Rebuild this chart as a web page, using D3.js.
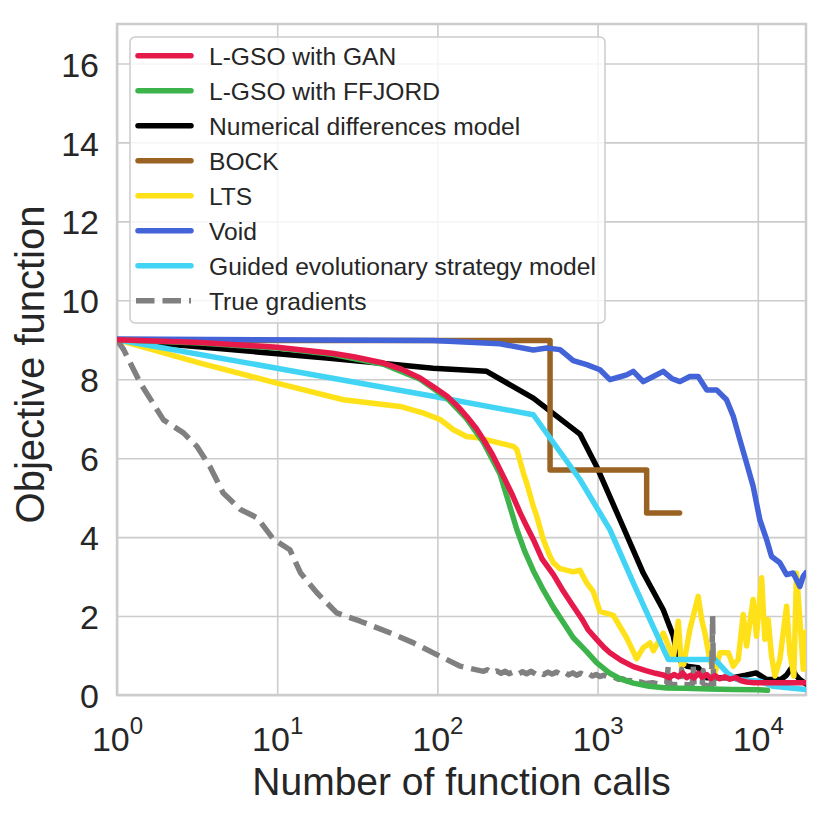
<!DOCTYPE html>
<html>
<head>
<meta charset="utf-8">
<script src="https://cdn.jsdelivr.net/npm/d3@7/dist/d3.min.js"></script>
<style>
  body { margin: 0; background: #fff; }
  text { font-family: "Liberation Sans", Arial, sans-serif; fill: #262626; }
</style>
</head>
<body>
<div class="content"></div>
<script>
// Series: [number of function calls, objective function]
var ganData = [
  [1, 9.0], [3.3, 8.93], [10, 8.81], [22, 8.66], [30, 8.57], [46, 8.41], [60, 8.25],
  [78, 8.03], [95, 7.8], [115, 7.57], [135, 7.3], [152, 7.06], [175, 6.75], [194, 6.47],
  [220, 6.1], [246, 5.71], [290, 5.12], [328, 4.62], [360, 4.28], [397, 3.94], [450, 3.45],
  [530, 3.05], [600, 2.68], [700, 2.27], [800, 1.92], [870, 1.66], [986, 1.41], [1100, 1.2],
  [1194, 1.07], [1400, 0.88], [1671, 0.72], [2000, 0.62], [2300, 0.55], [2600, 0.5],
  [2800, 0.44], [3000, 0.52], [3200, 0.46], [3400, 0.56], [3600, 0.44], [3800, 0.5],
  [4000, 0.43], [4250, 0.55], [4500, 0.45], [4800, 0.52], [5100, 0.42], [5400, 0.49],
  [5800, 0.41], [6200, 0.46], [6700, 0.4], [7300, 0.44], [7900, 0.36], [8500, 0.33],
  [9500, 0.31], [12000, 0.31], [16000, 0.31], [20000, 0.31]
];

var ffjordData = [
  [1, 9.0], [3.3, 8.92], [10, 8.79], [22, 8.63], [46, 8.38], [78, 8.0], [115, 7.52],
  [152, 7.0], [194, 6.4], [246, 5.6], [280, 4.85], [313, 4.2], [350, 3.65], [397, 3.15],
  [460, 2.65], [530, 2.22], [620, 1.8], [705, 1.45], [855, 1.1], [986, 0.82], [1194, 0.55],
  [1400, 0.4], [1671, 0.3], [2100, 0.22], [2700, 0.18], [3500, 0.17], [5000, 0.15],
  [7000, 0.14], [10000, 0.13], [11500, 0.12]
];

var numDiffData = [
  [1, 9.0], [20.4, 8.54], [94, 8.28], [203, 8.2], [397, 7.52], [776, 6.61], [986, 5.79],
  [1380, 4.44], [1928, 3.09], [2570, 2.16], [2965, 1.5], [3110, 1.1], [3300, 0.85],
  [3600, 0.73], [4250, 0.69], [4800, 0.44], [7000, 0.44], [8400, 0.5], [9770, 0.56],
  [10500, 0.48], [11350, 0.39], [14000, 0.4], [15100, 0.5], [16250, 0.69], [17300, 0.5],
  [18300, 0.39], [20000, 0.28]
];

var bockData = [
  [1, 8.98], [505, 5.7], [2025, 4.61], [3250, 4.61]
];

var ltsData = [
  [1, 9.0], [3.3, 8.41], [9.95, 7.9], [25.9, 7.48], [58.5, 7.31], [82, 7.14], [104, 6.98],
  [126, 6.72], [152, 6.55], [184, 6.51], [246, 6.38], [298, 6.3], [313, 6.22], [344, 5.63],
  [361, 5.37], [397, 4.78], [417, 4.53], [458, 3.94], [505, 3.51], [530, 3.35], [583, 3.2],
  [705, 3.12], [776, 3.16], [855, 2.84], [940, 2.62], [1035, 2.12], [1253, 2.02],
  [1517, 1.45], [1754, 0.92], [1928, 1.2], [2123, 1.32], [2228, 1.12], [2570, 1.57],
  [2831, 1.15], [2965, 0.9], [3190, 1.87], [3340, 0.73], [3450, 0.78], [3767, 1.66],
  [3954, 2.0], [4246, 2.5], [4467, 1.91], [4677, 1.57], [5020, 0.9], [5400, 0.56],
  [5808, 1.07], [6550, 1.07], [7031, 0.73], [7550, 0.9], [8110, 2.04], [8511, 1.24],
  [9354, 2.42], [9820, 1.49], [10570, 2.97], [11070, 1.41], [11610, 1.91], [12190, 0.98],
  [12800, 0.48], [13740, 0.9], [15136, 2.25], [15849, 1.07], [16790, 0.48], [17458, 3.09],
  [18323, 1.91], [19231, 0.65], [20000, 1.6]
];

var voidData = [
  [1, 9.02], [94, 8.98], [246, 8.9], [397, 8.74], [482, 8.79], [583, 8.75], [705, 8.47],
  [855, 8.37], [1035, 8.24], [1194, 7.99], [1350, 8.05], [1517, 8.11], [1671, 8.2],
  [1928, 7.94], [2228, 8.07], [2570, 8.2], [2900, 8.02], [3266, 7.94], [3767, 8.07],
  [4246, 8.07], [4797, 7.73], [5534, 7.73], [6383, 7.48], [7031, 7.06], [7727, 6.47],
  [8511, 5.88], [9354, 5.29], [10300, 4.44], [11350, 3.94], [12190, 3.51], [13740, 3.35],
  [15136, 3.05], [16630, 3.09], [18323, 2.75], [19231, 3.01], [20000, 3.1]
];

var guidedData = [
  [1, 9.0], [9.95, 8.28], [94, 7.57], [397, 7.1], [776, 5.46], [1194, 4.19], [1671, 2.84],
  [2123, 1.91], [2761, 0.9], [5400, 0.9], [6450, 0.56], [7380, 0.39], [10300, 0.35],
  [12500, 0.22], [20000, 0.14]
];

var trueGradData = [
  [1, 9.0], [1.1, 8.75], [1.4, 7.9], [1.95, 6.97], [2.6, 6.64], [3.15, 6.3], [3.8, 5.79],
  [4.6, 5.12], [5.9, 4.7], [7.5, 4.49], [9.5, 3.94], [12, 3.68], [14, 3.09], [17.7, 2.59],
  [23.5, 2.08], [33, 1.87], [51, 1.57], [71, 1.32], [104, 0.98], [139, 0.73], [194, 0.6],
  [205, 0.64], [220, 0.56], [235, 0.61], [250, 0.55], [265, 0.6], [280, 0.54], [300, 0.59],
  [320, 0.53], [340, 0.59], [360, 0.54], [385, 0.6], [410, 0.53], [435, 0.58], [460, 0.52],
  [490, 0.58], [520, 0.53], [555, 0.58], [590, 0.52], [625, 0.57], [660, 0.51], [700, 0.56],
  [740, 0.5], [785, 0.55], [830, 0.5], [880, 0.54], [930, 0.48], [980, 0.52], [1035, 0.47],
  [1100, 0.5], [1200, 0.43], [1270, 0.45], [1350, 0.4], [1430, 0.41], [1517, 0.36],
  [1600, 0.37], [1700, 0.32], [1850, 0.33], [2000, 0.29], [2200, 0.31], [2450, 0.27],
  [2700, 0.28], [2761, 0.73], [2820, 0.28], [3050, 0.26], [3300, 0.28], [3345, 0.65],
  [3400, 0.27], [3650, 0.26], [3900, 0.27], [3954, 0.73], [4000, 0.27], [4250, 0.25],
  [4500, 0.25], [4560, 0.62], [4620, 0.25], [4900, 0.24], [5150, 0.24], [5224, 2.0],
  [5300, 0.22]
];

var seriesNames = [
  "L-GSO with GAN", "L-GSO with FFJORD", "Numerical differences model", "BOCK",
  "LTS", "Void", "Guided evolutionary strategy model", "True gradients"
];
var seriesColors = [
  "#e6194b", "#3cb44b", "#000000", "#9a6324", "#ffe119", "#4363d8", "#42d4f4", "#808080"
];

var xTicks = [1, 10, 100, 1000, 10000];
var yTicks = [0, 2, 4, 6, 8, 10, 12, 14, 16];
var xDomain = [1, 20000];
var yDomain = [0, 17];

(function() {

  var allData = [ganData, ffjordData, numDiffData, bockData, ltsData, voidData, guidedData, trueGradData];
  // drawing order, GAN ends on top
  var drawOrder = [2, 3, 4, 5, 6, 7, 1, 0];

  // Margin Convention
  var margin = {top: 24, right: 24, bottom: 123, left: 117};
  var width = 830 - margin.left - margin.right;
  var height = 818 - margin.top - margin.bottom;

  var x = d3.scaleLog().domain(xDomain).range([0, width]);
  var y = d3.scaleLinear().domain(yDomain).range([height, 0]);

  var svg = d3.select(".content").append("svg")
      .attr("width", 830)
      .attr("height", 818);

  var chart = svg.append("g")
      .attr("transform", "translate(" + margin.left + "," + margin.top + ")");

  chart.append("clipPath")
      .attr("id", "plot-clip")
      .append("rect")
      .attr("width", width)
      .attr("height", height);

  // Grid
  var xAxis = chart.append("g")
      .attr("class", "x-axis")
      .attr("transform", "translate(0," + height + ")")
      .call(d3.axisBottom(x).tickValues(xTicks).tickSize(-height).tickFormat(""));

  var yAxis = chart.append("g")
      .attr("class", "y-axis")
      .call(d3.axisLeft(y).tickValues(yTicks).tickSize(-width).tickFormat(""));

  chart.selectAll(".domain").remove();
  chart.selectAll(".tick line")
      .attr("stroke", "#cccccc")
      .attr("stroke-width", 1.6);

  xAxis.selectAll(".tick").append("text")
      .attr("y", 56)
      .attr("text-anchor", "middle")
      .style("font-size", "34px")
      .each(function(d) {
        var t = d3.select(this);
        t.append("tspan").text("10");
        t.append("tspan")
            .attr("dy", -17)
            .style("font-size", "24px")
            .text(Math.round(Math.log10(d)));
      });

  yAxis.selectAll(".tick").append("text")
      .attr("x", -18)
      .attr("dy", "0.37em")
      .attr("text-anchor", "end")
      .style("font-size", "34px")
      .text(function(d) { return d; });

  chart.append("rect")
      .attr("width", width)
      .attr("height", height)
      .attr("fill", "none")
      .attr("stroke", "#cccccc")
      .attr("stroke-width", 2.5);

  // Lines
  var line = d3.line()
      .x(function(d) { return x(d[0]); })
      .y(function(d) { return y(d[1]); });

  var lines = chart.append("g").attr("clip-path", "url(#plot-clip)");

  drawOrder.forEach(function(i) {
    var l = i === 3 ? line.curve(d3.curveStepAfter) : line.curve(d3.curveLinear);
    lines.append("path")
        .datum(allData[i])
        .attr("fill", "none")
        .attr("stroke", seriesColors[i])
        .attr("stroke-width", 5.5)
        .attr("stroke-linejoin", "round")
        .attr("stroke-linecap", i === 7 ? "butt" : "round")
        .attr("stroke-dasharray", i === 7 ? "18.5,8" : null)
        .attr("d", l);
  });

  // Legend
  var legend = chart.append("g")
      .attr("transform", "translate(13,13)");

  legend.append("rect")
      .attr("width", 475)
      .attr("height", 286)
      .attr("rx", 5)
      .attr("fill", "#ffffff")
      .attr("fill-opacity", 0.8)
      .attr("stroke", "#cccccc")
      .attr("stroke-width", 1.5);

  var item = legend.selectAll(".legend-item")
      .data(seriesNames)
      .enter()
      .append("g")
      .attr("class", "legend-item")
      .attr("transform", function(d, i) { return "translate(0," + (18.7 + 35 * i) + ")"; });

  item.append("line")
      .attr("x1", function(d, i) { return i === 7 ? 6 : 8; })
      .attr("x2", 61)
      .attr("stroke", function(d, i) { return seriesColors[i]; })
      .attr("stroke-width", 5.5)
      .attr("stroke-linecap", function(d, i) { return i === 7 ? "butt" : "round"; })
      .attr("stroke-dasharray", function(d, i) { return i === 7 ? "18.5,8" : null; });

  item.append("text")
      .attr("x", 79)
      .attr("dy", "0.36em")
      .style("font-size", "24.6px")
      .text(function(d) { return d; });

  // Axis titles
  svg.append("text")
      .attr("x", margin.left + width / 2)
      .attr("y", 795)
      .attr("text-anchor", "middle")
      .style("font-size", "39px")
      .text("Number of function calls");

  svg.append("text")
      .attr("transform", "translate(44," + (margin.top + height / 2 + 5) + ") rotate(-90)")
      .attr("text-anchor", "middle")
      .style("font-size", "40px")
      .text("Objective function");

})()
</script>
</body>
</html>
